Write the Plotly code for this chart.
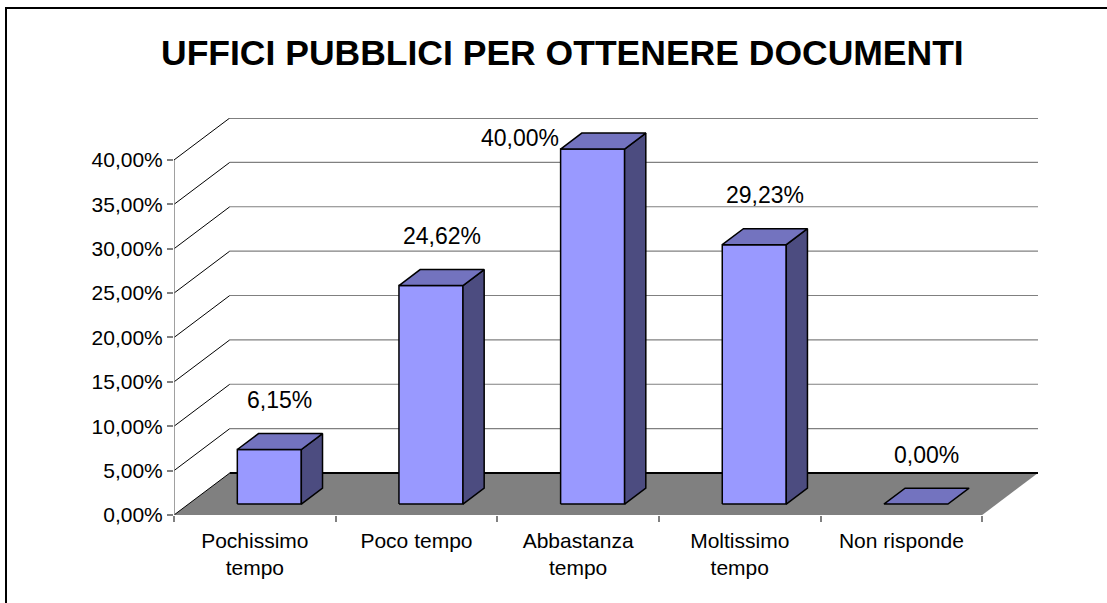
import plotly.graph_objects as go

# ---- data ----
categories = ["Pochissimo<br>tempo", "Poco tempo", "Abbastanza<br>tempo", "Moltissimo<br>tempo", "Non risponde"]
values = [6.15, 24.62, 40.00, 29.23, 0.00]
value_labels = ["6,15%", "24,62%", "40,00%", "29,23%", "0,00%"]
y_ticks = [0, 5, 10, 15, 20, 25, 30, 35, 40]
y_tick_labels = ["0,00%", "5,00%", "10,00%", "15,00%", "20,00%", "25,00%", "30,00%", "35,00%", "40,00%"]
title = "UFFICI PUBBLICI PER OTTENERE DOCUMENTI"

# ---- pseudo-3D geometry (axis units) ----
DX = 0.345      # depth offset along x (category units)
DY = 4.73       # depth offset along y (percent units)
F1, F2 = 0.26, 0.64   # bar depth range (fraction of full depth)
BW = 0.396      # bar width
YMAX = max(y_ticks)
LABEL_OFF = 6.8

FRONT = "#9999FF"
TOP = "#7373BF"
SIDE = "#4C4C80"
FONT = "Liberation Sans, Arial, sans-serif"

fig = go.Figure()

def poly(xs, ys, fill, line_color, width=1.0):
    fig.add_trace(go.Scatter(x=xs + [xs[0]], y=ys + [ys[0]], mode="lines",
                             fill="toself" if fill else None, fillcolor=fill,
                             line=dict(color=line_color, width=width),
                             hoverinfo="skip", showlegend=False))

def seg(x0, y0, x1, y1, color, width=1.0):
    fig.add_trace(go.Scatter(x=[x0, x1], y=[y0, y1], mode="lines",
                             line=dict(color=color, width=width),
                             hoverinfo="skip", showlegend=False))

n = len(categories)
# floor
poly([0, n, n + DX, DX], [0, 0, DY, DY], "#808080", "rgba(0,0,0,0)", 0)
# walls: diagonals and back gridlines
for v in y_ticks:
    seg(0, v, DX, v + DY, "#000000", 1)
    col = "#000000" if v in (0, YMAX) else "#808080"
    seg(DX, v + DY, n + DX, v + DY, col, 2 if v == 0 else 1.2)
# y axis line
seg(0, 0, 0, YMAX, "#808080", 1.5)

# bars
dd = (F2 - F1)
for i, v in enumerate(values):
    xl = i + 0.5 - BW / 2 + F1 * DX
    xr = xl + BW
    yb = F1 * DY
    if v > 0:
        poly([xl, xr, xr, xl], [yb, yb, yb + v, yb + v], FRONT, "#000000", 1.5)
        poly([xr, xr + dd * DX, xr + dd * DX, xr], [yb, yb + dd * DY, yb + dd * DY + v, yb + v], SIDE, "#000000", 1.5)
    poly([xl, xr, xr + dd * DX, xl + dd * DX], [yb + v, yb + v, yb + v + dd * DY, yb + v + dd * DY], TOP, "#000000", 1.5)

# value labels (placed beside the bar when there is no room above it)
for i, (v, lab) in enumerate(zip(values, value_labels)):
    xl = i + 0.5 - BW / 2 + F1 * DX
    if v + LABEL_OFF <= YMAX + 1.5:
        fig.add_annotation(x=i + 0.5 + (F1 + F2) / 2 * DX, y=v + LABEL_OFF,
                           text=lab, showarrow=False, xref="x", yref="y",
                           font=dict(family=FONT, size=23, color="#000000"),
                           xanchor="center", yanchor="middle")
    else:
        fig.add_annotation(x=xl, y=v + F1 * DY + dd * DY / 2 + 0.3,
                           text=lab, showarrow=False, xref="x", yref="y",
                           font=dict(family=FONT, size=23, color="#000000"),
                           xanchor="right", yanchor="middle")

W, H = 1107, 603
L, R, T, B = 174, 69, 118, 88
pw, ph = W - L - R, H - T - B

fig.add_annotation(text="<b>" + title + "</b>", x=(562 - L) / pw, y=(H - B - 53) / ph,
                   xref="paper", yref="paper", showarrow=False,
                   font=dict(family=FONT, size=35.5, color="#000000"),
                   xanchor="center", yanchor="middle")

# outer chart border (top and left visible)
fig.add_shape(type="rect", xref="paper", yref="paper",
              x0=(6 - L) / pw, x1=1.5, y0=-1.0, y1=(H - B - 8) / ph,
              line=dict(color="#000000", width=2), fillcolor="rgba(0,0,0,0)")

fig.update_layout(
    width=W, height=H,
    margin=dict(l=L, r=R, t=T, b=B, pad=0),
    paper_bgcolor="white", plot_bgcolor="white",
    showlegend=False,
    font=dict(family=FONT, size=21, color="#000000"),
    xaxis=dict(range=[0, n + DX], showgrid=False, zeroline=False, showline=False,
               tickmode="array", tickvals=[i + 0.5 for i in range(n)], ticktext=categories,
               ticks="", tickfont=dict(family=FONT, size=21), ticklabelstandoff=11,
               minor=dict(ticks="outside", tick0=0, dtick=1, ticklen=6, tickcolor="#808080", tickwidth=1.5, showgrid=False),
               fixedrange=True),
    yaxis=dict(range=[0, YMAX + DY], showgrid=False, zeroline=False, showline=False,
               tickmode="array", tickvals=y_ticks, ticktext=y_tick_labels,
               ticks="outside", ticklen=6, tickcolor="#808080", tickwidth=1.5,
               tickfont=dict(family=FONT, size=21), fixedrange=True),
)

fig.write_html("out.html", config={"displayModeBar": False},
               post_script="document.body.style.margin='0';document.body.style.overflow='hidden';")
